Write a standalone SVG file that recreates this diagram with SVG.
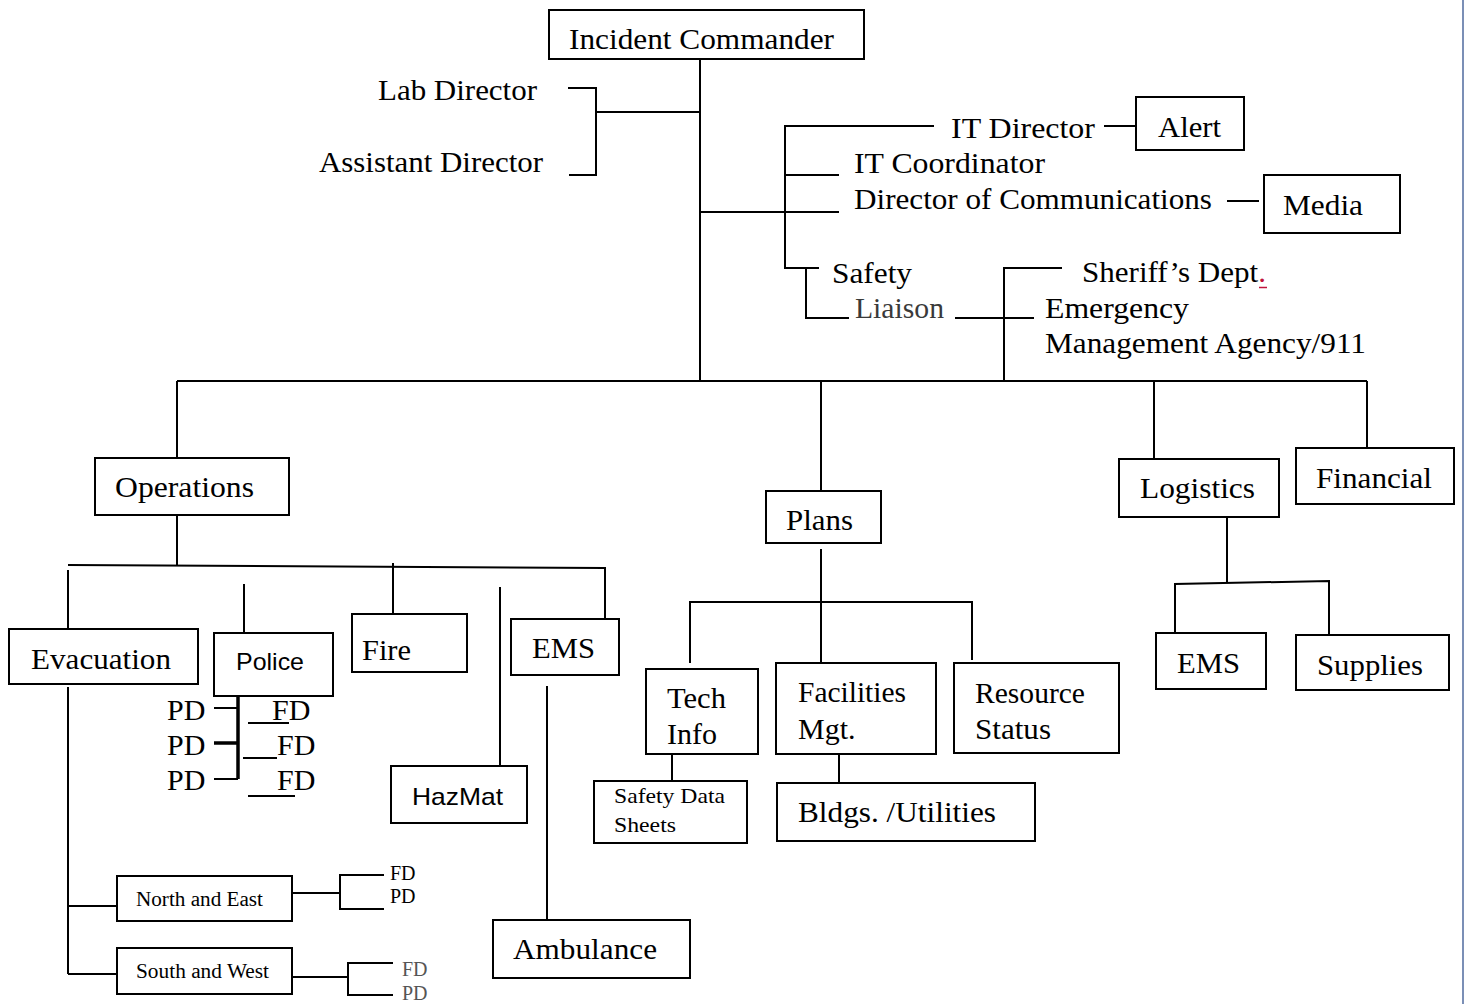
<svg xmlns="http://www.w3.org/2000/svg" width="1464" height="1004" viewBox="0 0 1464 1004">
<style>
  .box { fill: #fff; stroke: #000; stroke-width: 2; }
  .t { font-family: "Liberation Serif", "Times New Roman", serif; font-size: 30px; fill: #000; }
  .ts { font-family: "Liberation Sans", Arial, sans-serif; font-size: 24px; fill: #000; }
  .sm { font-family: "Liberation Serif", "Times New Roman", serif; font-size: 20px; fill: #000; }
  .md { font-family: "Liberation Serif", "Times New Roman", serif; font-size: 22px; fill: #000; }
  .c { fill: none; stroke: #000; stroke-width: 2; }
  .thick { fill: none; stroke: #000; stroke-width: 3.5; }
</style>
<rect x="0" y="0" width="1464" height="1004" fill="#fff"/>
<line x1="1463" y1="0" x2="1463" y2="1004" stroke="#4f6a9e" stroke-width="1.5"/>

<g id="connectors">
  <path class="c" d="M700 59 V381"/>
  <path class="c" d="M700 112 H596"/>
  <path class="c" d="M568 88 H596 V175 H569"/>
  <path class="c" d="M700 212 H839"/>
  <path class="c" d="M934 126 H785 V268 H819"/>
  <path class="c" d="M785 175 H839"/>
  <path class="c" d="M1104 126 H1136"/>
  <path class="c" d="M1227 201 H1259"/>
  <path class="c" d="M806 268 V318 H849"/>
  <path class="c" d="M955 318 H1034"/>
  <path class="c" d="M1062 268 H1004 V381"/>
  <path class="c" d="M177 381 H1367" stroke-width="2.5"/>
  <path class="c" d="M177 381 V458"/>
  <path class="c" d="M821 381 V491"/>
  <path class="c" d="M1154 381 V459"/>
  <path class="c" d="M1367 381 V448"/>
  <path class="c" d="M177 515 V566"/>
  <path class="c" d="M68 565 L605 568"/>
  <path class="c" d="M68 570 V629"/>
  <path class="c" d="M244 584 V633"/>
  <path class="c" d="M393 563 V614"/>
  <path class="c" d="M500 587 V766"/>
  <path class="c" d="M605 567 V619"/>
  <path class="c" d="M68 687 V974"/>
  <path class="c" d="M68 906 H117"/>
  <path class="c" d="M68 974 H117"/>
  <path class="c" d="M292 893 H340"/>
  <path class="c" d="M384 875 H340 V909 H384"/>
  <path class="c" d="M292 977 H348"/>
  <path class="c" d="M393 963 H348 V995 H393"/>
  <path class="thick" d="M238 696 V779"/>
  <path class="c" d="M214 708 H238"/>
  <path class="thick" d="M214 743 H238"/>
  <path class="c" d="M214 779 H238"/>
  <path class="c" d="M248 723 H289"/>
  <path class="c" d="M243 758 H277" stroke-width="4"/>
  <path class="c" d="M248 796 H295"/>
  <path class="c" d="M547 686 V920"/>
  <path class="c" d="M821 549 V663"/>
  <path class="c" d="M690 663 V602 H972 V660"/>
  <path class="c" d="M672 754 V781"/>
  <path class="c" d="M839 754 V783"/>
  <path class="c" d="M1227 517 V583"/>
  <path class="c" d="M1175 632 V584 L1329 581 V634"/>
</g>

<g id="incident-commander">
  <rect class="box" x="549" y="10" width="315" height="49"/>
  <text class="t" x="569" y="49" textLength="265" lengthAdjust="spacingAndGlyphs">Incident Commander</text>
</g>
<g id="lab-director"><text class="t" x="378" y="100" textLength="159" lengthAdjust="spacingAndGlyphs">Lab Director</text></g>
<g id="assistant-director"><text class="t" x="319" y="172" textLength="224" lengthAdjust="spacingAndGlyphs">Assistant Director</text></g>
<g id="it-director"><text class="t" x="951" y="138" textLength="144" lengthAdjust="spacingAndGlyphs">IT Director</text></g>
<g id="alert">
  <rect class="box" x="1136" y="97" width="108" height="53"/>
  <text class="t" x="1158" y="137" textLength="63" lengthAdjust="spacingAndGlyphs">Alert</text>
</g>
<g id="it-coordinator"><text class="t" x="854" y="173" textLength="191" lengthAdjust="spacingAndGlyphs">IT Coordinator</text></g>
<g id="director-communications"><text class="t" x="854" y="209" textLength="358" lengthAdjust="spacingAndGlyphs">Director of Communications</text></g>
<g id="media">
  <rect class="box" x="1264" y="175" width="136" height="58"/>
  <text class="t" x="1283" y="215" textLength="80" lengthAdjust="spacingAndGlyphs">Media</text>
</g>
<g id="safety"><text class="t" x="832" y="283" textLength="80" lengthAdjust="spacingAndGlyphs">Safety</text></g>
<g id="liaison"><text class="t" x="855" y="318" style="fill:#3a3a3a" textLength="89" lengthAdjust="spacingAndGlyphs">Liaison</text></g>
<g id="sheriffs-dept">
  <text class="t" x="1082" y="282" textLength="184" lengthAdjust="spacingAndGlyphs">Sheriff’s Dept<tspan style="fill:#c0143c">.</tspan></text>
  <line x1="1259" y1="287.5" x2="1267" y2="287.5" stroke="#c0143c" stroke-width="1.5"/>
</g>
<g id="ema-911">
  <text class="t" x="1045" y="318" textLength="144" lengthAdjust="spacingAndGlyphs">Emergency</text>
  <text class="t" x="1045" y="353" textLength="321" lengthAdjust="spacingAndGlyphs">Management Agency/911</text>
</g>
<g id="operations">
  <rect class="box" x="95" y="458" width="194" height="57"/>
  <text class="t" x="115" y="497" textLength="139" lengthAdjust="spacingAndGlyphs">Operations</text>
</g>
<g id="plans">
  <rect class="box" x="766" y="491" width="115" height="52"/>
  <text class="t" x="786" y="530" textLength="67" lengthAdjust="spacingAndGlyphs">Plans</text>
</g>
<g id="logistics">
  <rect class="box" x="1119" y="459" width="160" height="58"/>
  <text class="t" x="1140" y="498" textLength="115" lengthAdjust="spacingAndGlyphs">Logistics</text>
</g>
<g id="financial">
  <rect class="box" x="1296" y="448" width="158" height="56"/>
  <text class="t" x="1316" y="488" textLength="116" lengthAdjust="spacingAndGlyphs">Financial</text>
</g>
<g id="evacuation">
  <rect class="box" x="9" y="629" width="189" height="55"/>
  <text class="t" x="31" y="669" textLength="140" lengthAdjust="spacingAndGlyphs">Evacuation</text>
</g>
<g id="police">
  <rect class="box" x="214" y="633" width="119" height="63"/>
  <text class="ts" x="236" y="670" textLength="68" lengthAdjust="spacingAndGlyphs">Police</text>
</g>
<g id="police-pd-fd">
  <text class="t" x="167" y="720">PD</text>
  <text class="t" x="167" y="755">PD</text>
  <text class="t" x="167" y="790">PD</text>
  <text class="t" x="272" y="720">FD</text>
  <text class="t" x="277" y="755">FD</text>
  <text class="t" x="277" y="790">FD</text>
</g>
<g id="fire">
  <rect class="box" x="352" y="614" width="115" height="58"/>
  <text class="t" x="362" y="660" textLength="49" lengthAdjust="spacingAndGlyphs">Fire</text>
</g>
<g id="ems-ops">
  <rect class="box" x="511" y="619" width="108" height="56"/>
  <text class="t" x="532" y="658" textLength="63" lengthAdjust="spacingAndGlyphs">EMS</text>
</g>
<g id="hazmat">
  <rect class="box" x="391" y="766" width="136" height="57"/>
  <text class="ts" x="412" y="805" textLength="91" lengthAdjust="spacingAndGlyphs">HazMat</text>
</g>
<g id="ambulance">
  <rect class="box" x="493" y="920" width="197" height="58"/>
  <text class="t" x="513" y="959" textLength="144" lengthAdjust="spacingAndGlyphs">Ambulance</text>
</g>
<g id="north-east">
  <rect class="box" x="117" y="876" width="175" height="45"/>
  <text class="sm" x="136" y="906" textLength="127" lengthAdjust="spacingAndGlyphs">North and East</text>
  <text class="sm" x="390" y="880">FD</text>
  <text class="sm" x="390" y="903">PD</text>
</g>
<g id="south-west">
  <rect class="box" x="117" y="948" width="175" height="46"/>
  <text class="sm" x="136" y="978" textLength="133" lengthAdjust="spacingAndGlyphs">South and West</text>
  <text class="sm" x="402" y="976" style="fill:#555">FD</text>
  <text class="sm" x="402" y="1000" style="fill:#555">PD</text>
</g>
<g id="tech-info">
  <rect class="box" x="646" y="669" width="112" height="85"/>
  <text class="t" x="667" y="708" textLength="59" lengthAdjust="spacingAndGlyphs">Tech</text>
  <text class="t" x="667" y="744">Info</text>
</g>
<g id="facilities-mgt">
  <rect class="box" x="776" y="663" width="160" height="91"/>
  <text class="t" x="798" y="702" textLength="108" lengthAdjust="spacingAndGlyphs">Facilities</text>
  <text class="t" x="798" y="739">Mgt.</text>
</g>
<g id="resource-status">
  <rect class="box" x="954" y="663" width="165" height="90"/>
  <text class="t" x="975" y="703" textLength="110" lengthAdjust="spacingAndGlyphs">Resource</text>
  <text class="t" x="975" y="739" textLength="76" lengthAdjust="spacingAndGlyphs">Status</text>
</g>
<g id="safety-data-sheets">
  <rect class="box" x="594" y="781" width="153" height="62"/>
  <text class="md" x="614" y="803" textLength="111" lengthAdjust="spacingAndGlyphs">Safety Data</text>
  <text class="md" x="614" y="832" textLength="62" lengthAdjust="spacingAndGlyphs">Sheets</text>
</g>
<g id="bldgs-utilities">
  <rect class="box" x="777" y="783" width="258" height="58"/>
  <text class="t" x="798" y="822" textLength="198" lengthAdjust="spacingAndGlyphs">Bldgs. /Utilities</text>
</g>
<g id="ems-logistics">
  <rect class="box" x="1156" y="633" width="110" height="56"/>
  <text class="t" x="1177" y="673" textLength="63" lengthAdjust="spacingAndGlyphs">EMS</text>
</g>
<g id="supplies">
  <rect class="box" x="1296" y="635" width="153" height="55"/>
  <text class="t" x="1317" y="675" textLength="106" lengthAdjust="spacingAndGlyphs">Supplies</text>
</g>
</svg>
